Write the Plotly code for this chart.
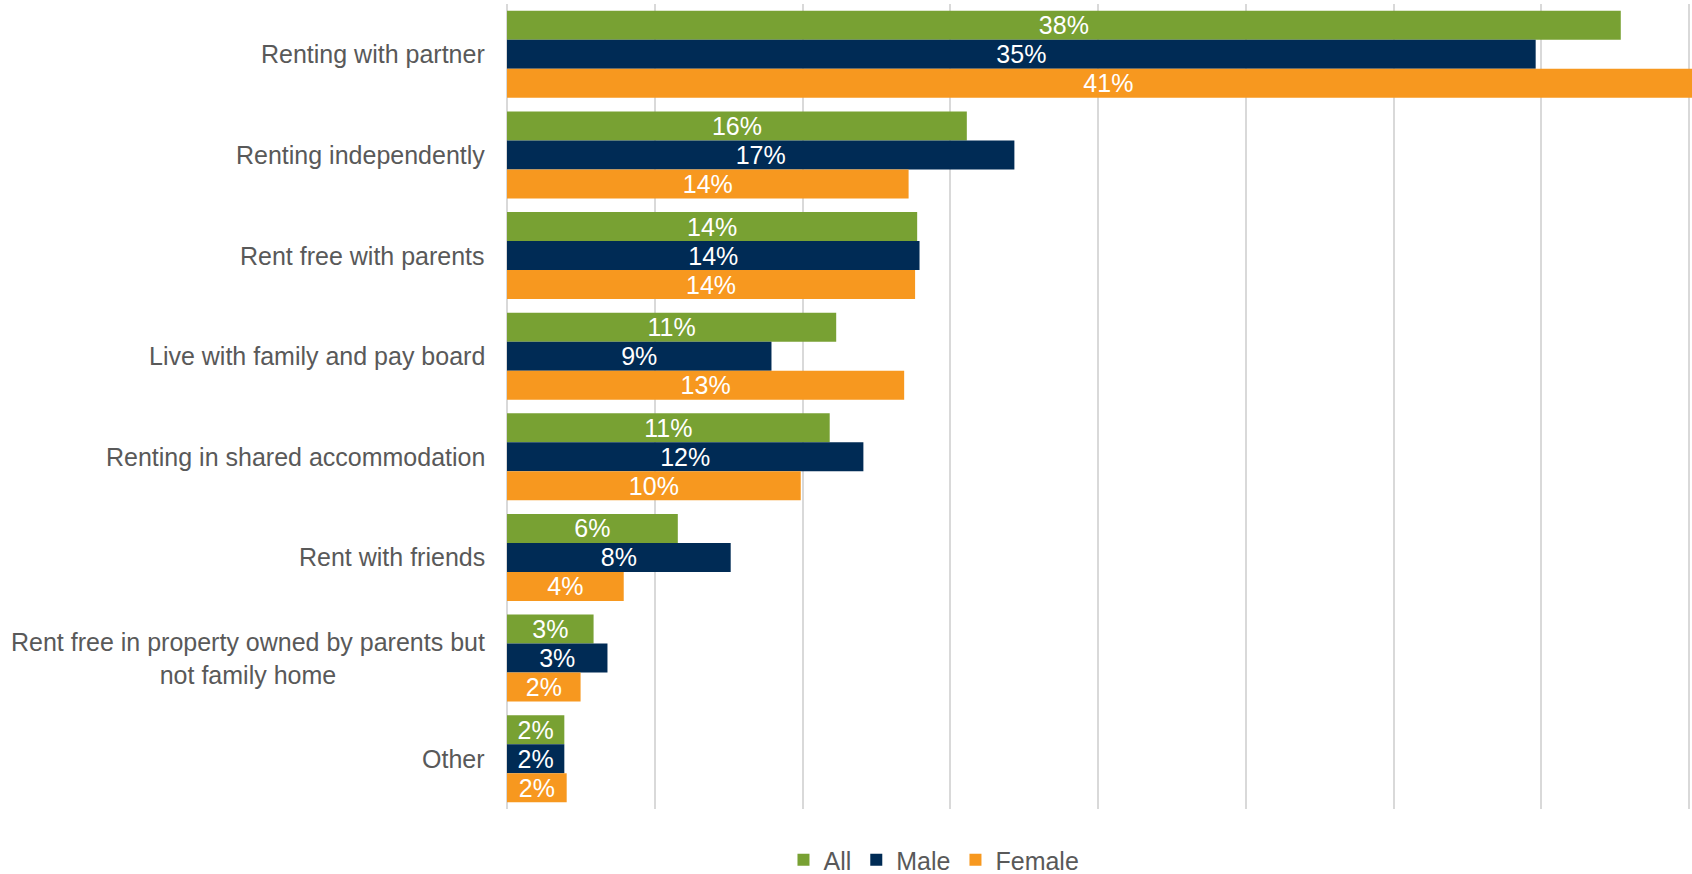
import plotly.graph_objects as go

# Living arrangements by gender (share of respondents, %)
categories = [
    "Renting with partner",
    "Renting independently",
    "Rent free with parents",
    "Live with family and pay board",
    "Renting in shared accommodation",
    "Rent with friends",
    "Rent free in property owned by parents but<br>not family home",
    "Other",
]
all_values = [37.69, 15.56, 13.88, 11.14, 10.92, 5.78, 2.93, 1.94]
male_values = [34.81, 17.17, 13.96, 8.95, 12.06, 7.57, 3.40, 1.94]
female_values = [40.7, 13.59, 13.81, 13.44, 9.94, 3.95, 2.49, 2.02]

series = [
    ("All", all_values, "#78A133"),
    ("Male", male_values, "#002B55"),
    ("Female", female_values, "#F7981F"),
]

FONT = "Arial, Liberation Sans, sans-serif"
TEXT_GREY = "#595959"
FONT_SIZE = 25

fig = go.Figure()
for name, values, color in series:
    fig.add_trace(go.Bar(
        name=name,
        y=categories,
        x=values,
        orientation="h",
        marker=dict(color=color, line=dict(width=0)),
        text=values,
        texttemplate="%{x:.0f}%",
        textposition="inside",
        insidetextanchor="middle",
        textangle=0,
        constraintext="none",
        insidetextfont=dict(family=FONT, size=FONT_SIZE, color="white"),
        hovertemplate="%{y}: %{x:.1f}%<extra>" + name + "</extra>",
    ))

# Category labels, centred line by line, to the left of the axis
for cat in categories:
    fig.add_annotation(
        x=0, xref="paper", xanchor="right", xshift=-20,
        y=cat, yref="y", yanchor="middle",
        text=cat, showarrow=False, align="center",
        font=dict(family=FONT, size=FONT_SIZE, color=TEXT_GREY),
    )

fig.update_layout(
    width=1692,
    height=874,
    margin=dict(l=507, r=0, t=4, b=65),
    paper_bgcolor="white",
    plot_bgcolor="white",
    barmode="group",
    bargap=0.135,
    bargroupgap=0,
    font=dict(family=FONT, size=FONT_SIZE, color=TEXT_GREY),
    showlegend=True,
    legend=dict(
        orientation="h",
        xref="container", x=0.552, xanchor="center",
        yref="container", y=0.016, yanchor="middle",
        font=dict(family=FONT, size=FONT_SIZE, color=TEXT_GREY),
        itemwidth=30,
        traceorder="normal",
        bgcolor="rgba(0,0,0,0)",
    ),
    xaxis=dict(
        range=[0, 40.1],
        dtick=5,
        showgrid=True,
        gridcolor="#D9D9D9",
        gridwidth=1.5,
        zeroline=True,
        zerolinecolor="#D9D9D9",
        zerolinewidth=1.5,
        showticklabels=False,
        ticks="",
        fixedrange=True,
    ),
    yaxis=dict(
        autorange="reversed",
        showticklabels=False,
        showgrid=False,
        ticks="",
        fixedrange=True,
    ),
)

fig.write_html("out.html")
